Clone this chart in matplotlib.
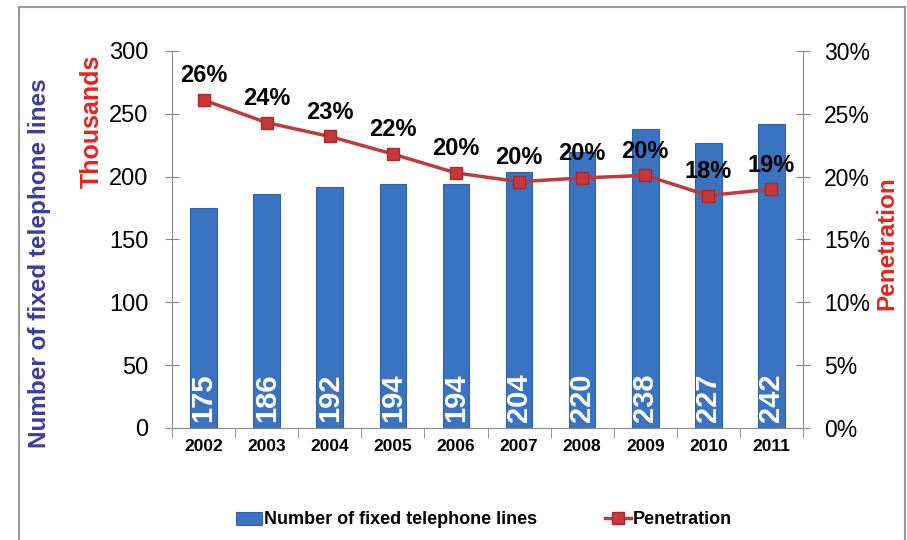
import matplotlib.pyplot as plt
from matplotlib.lines import Line2D
from matplotlib.ticker import FuncFormatter

plt.rcParams['font.family'] = ['Liberation Sans', 'DejaVu Sans']

years = ['2002', '2003', '2004', '2005', '2006', '2007', '2008', '2009', '2010', '2011']
lines = [175, 186, 192, 194, 194, 204, 220, 238, 227, 242]
penetration = [26.1, 24.3, 23.2, 21.8, 20.3, 19.6, 19.9, 20.1, 18.5, 19.0]
pen_labels = ['26%', '24%', '23%', '22%', '20%', '20%', '20%', '20%', '18%', '19%']

fig = plt.figure(figsize=(9.07, 5.40), dpi=100)
ax = fig.add_axes([172 / 907, 1 - 428 / 540, 631 / 907, 377 / 540])
ax2 = ax.twinx()

x = list(range(len(years)))
bars = ax.bar(x, lines, width=0.42, color='#3a73c0', edgecolor='#2f62a8', linewidth=0.8,
              label='Number of fixed telephone lines', zorder=2)
for xi, v in zip(x, lines):
    ax.text(xi, 5, str(v), rotation=90, ha='center', va='bottom', color='white',
            fontsize=21, fontweight='bold', zorder=3)

ax2.plot(x, penetration, color='#c0393b', linewidth=2.5, marker='s', markersize=9,
         markerfacecolor='#c8383a', markeredgecolor='#a52a2c', label='Penetration', zorder=4)
for xi, p, lab in zip(x, penetration, pen_labels):
    ax2.text(xi, p + 1.0, lab, ha='center', va='bottom', fontsize=17, fontweight='bold',
             color='black')

ax.set_xlim(-0.5, 9.5)
ax.set_ylim(0, 300)
ax2.set_ylim(0, 30)
ax.set_yticks(range(0, 301, 50))
ax2.set_yticks(range(0, 31, 5))
ax2.yaxis.set_major_formatter(FuncFormatter(lambda v, pos: f'{int(v)}%'))

ax.set_xticks(x)
ax.set_xticklabels(years, fontsize=12.5, fontweight='bold')
ax.set_xticks([i + 0.5 for i in range(-1, 10)], minor=True)
ax.tick_params(axis='x', which='major', length=0, pad=8)
ax.tick_params(axis='x', which='minor', length=7, color='#888888', direction='out')
ax.tick_params(axis='y', labelsize=17, length=10, direction='inout', color='#888888', pad=12)
ax2.tick_params(axis='y', labelsize=16.5, length=10, direction='inout', color='#888888', pad=10)

for a in (ax, ax2):
    a.spines['top'].set_visible(False)
    for s in ('left', 'right', 'bottom'):
        a.spines[s].set_color('#888888')
ax.spines['right'].set_visible(False)
ax2.spines['left'].set_visible(False)
ax2.spines['bottom'].set_visible(False)

fig.text(40 / 907, 1 - 263 / 540, 'Number of fixed telephone lines', rotation=90,
         ha='center', va='center', fontsize=17.5, fontweight='bold', color='#3c3c9c')
fig.text(92 / 907, 1 - 121 / 540, 'Thousands', rotation=90, ha='center', va='center',
         fontsize=18, fontweight='bold', color='#e8221f')
fig.text(887 / 907, 1 - 243 / 540, 'Penetration', rotation=90, ha='center', va='center',
         fontsize=17.5, fontweight='bold', color='#e8221f')

handles = [bars, Line2D([], [], color='#c0393b', linewidth=2.5, marker='s', markersize=8,
                        markerfacecolor='#c8383a', markeredgecolor='#a52a2c')]
fig.legend(handles, ['Number of fixed telephone lines', 'Penetration'], loc='center',
           bbox_to_anchor=(484 / 907, 1 - 520 / 540), ncol=2, frameon=False,
           prop={'size': 13, 'weight': 'bold'}, handlelength=1.4, handletextpad=0.1,
           columnspacing=3.8)

# slide frame
fig.add_artist(Line2D([19 / 907, 905 / 907], [1 - 7 / 540, 1 - 7 / 540], color='#999999', lw=1.5))
fig.add_artist(Line2D([19 / 907, 19 / 907], [0, 1 - 7 / 540], color='#999999', lw=1.5))
fig.add_artist(Line2D([905 / 907, 905 / 907], [0, 1 - 7 / 540], color='#999999', lw=1.5))

fig.savefig('out.png', dpi=100)
